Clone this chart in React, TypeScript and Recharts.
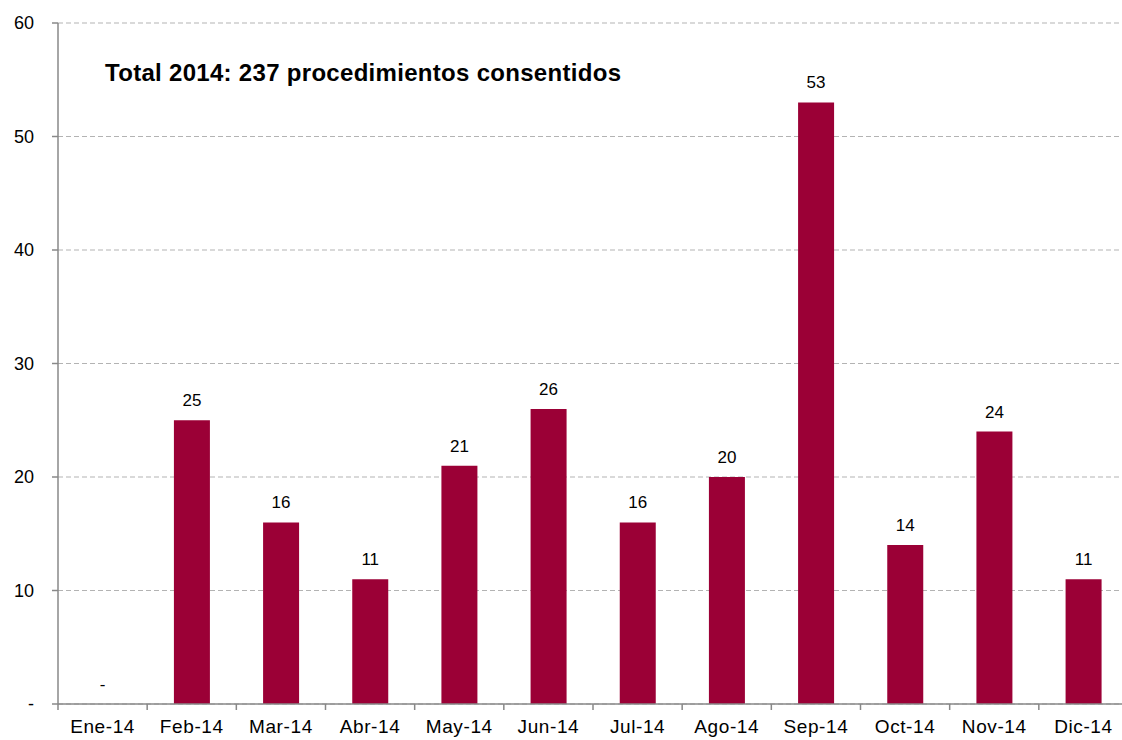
import { BarChart, Bar, XAxis, YAxis, CartesianGrid, LabelList, ReferenceDot } from 'recharts';

const months = ['Ene-14', 'Feb-14', 'Mar-14', 'Abr-14', 'May-14', 'Jun-14', 'Jul-14', 'Ago-14', 'Sep-14', 'Oct-14', 'Nov-14', 'Dic-14'];
const procedimientos = [0, 25, 16, 11, 21, 26, 16, 20, 53, 14, 24, 11];
const yTicks = [0, 10, 20, 30, 40, 50, 60];
const title = 'Total 2014: 237 procedimientos consentidos';

const data = months.map((mes, i) => ({ mes, valor: procedimientos[i] }));
// months with no procedures get a "-" marker instead of a bar label
const zeroMonths = data.filter((d) => d.valor === 0);

const CHART_W = 1132;
const CHART_H = 740;
const LEFT = 58;
const RIGHT_MARGIN = 4;
const BAND = (CHART_W - LEFT - RIGHT_MARGIN) / months.length;

const font = '"Liberation Sans", Arial, sans-serif';
const labelStyle = { fontSize: 17, fill: '#000', fontFamily: font };

function MonthTick(props: any) {
  const { x, y, payload } = props;
  const edge = x - BAND / 2;
  return (
    <g>
      <line x1={edge} x2={edge} y1={y - 8} y2={y - 2} stroke="#888" strokeWidth={1.5} />
      <text x={x} y={y + 21} textAnchor="middle" fontSize={19} letterSpacing={0.6} fill="#000" fontFamily={font}>
        {payload.value}
      </text>
    </g>
  );
}

export default function App() {
  return (
    <div style={{ position: 'fixed', left: 0, top: 0, width: 1122, height: 740, overflow: 'hidden', background: '#fff' }}>
      <BarChart
        width={CHART_W}
        height={CHART_H}
        data={data}
        margin={{ top: 23, right: RIGHT_MARGIN, bottom: 0, left: 0 }}
        barCategoryGap="30%"
      >
        <CartesianGrid vertical={false} stroke="#b3b3b3" strokeDasharray="5 3" />
        <XAxis
          dataKey="mes"
          height={36}
          interval={0}
          axisLine={{ stroke: '#888', strokeWidth: 1.5 }}
          tickLine={false}
          tick={<MonthTick />}
        />
        <YAxis
          width={LEFT}
          domain={[0, 60]}
          ticks={yTicks}
          interval={0}
          axisLine={{ stroke: '#888', strokeWidth: 1.5 }}
          tickLine={{ stroke: '#888', strokeWidth: 1.5 }}
          tickSize={6}
          tickMargin={18}
          tickFormatter={(v: number) => (v === 0 ? '-' : String(v))}
          tick={{ fontSize: 18, fill: '#000', fontFamily: font }}
        />
        <Bar dataKey="valor" fill="#9b0036" isAnimationActive={false}>
          <LabelList dataKey="valor" position="top" offset={14} style={labelStyle} />
        </Bar>
        {zeroMonths.map((d) => (
          <ReferenceDot
            key={d.mes}
            x={d.mes}
            y={0}
            r={0}
            stroke="none"
            fill="none"
            label={{ value: '-', position: 'top', offset: 14, style: labelStyle }}
          />
        ))}
      </BarChart>
      <div
        style={{
          position: 'absolute',
          left: 105,
          top: 61,
          fontFamily: font,
          fontWeight: 'bold',
          fontSize: 24,
          letterSpacing: 0.3,
          lineHeight: 1,
          color: '#000',
          whiteSpace: 'nowrap',
        }}
      >
        {title}
      </div>
    </div>
  );
}
